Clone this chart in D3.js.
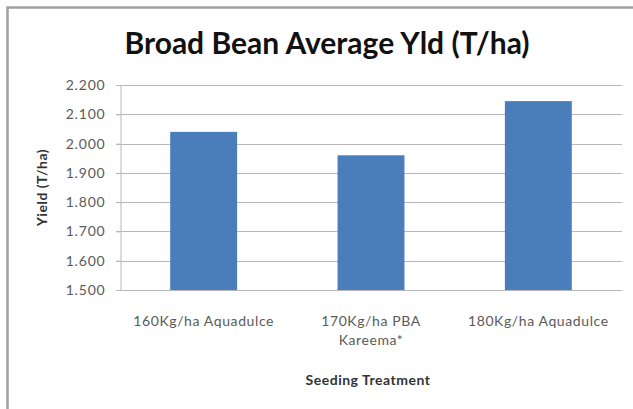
<!DOCTYPE html>
<html>
<head>
<meta charset="utf-8">
<script src="https://cdn.jsdelivr.net/npm/d3@7"></script>
<style>
  html, body { margin: 0; padding: 0; background: #ffffff; }
  svg { display: block; }
  text { font-family: Lato, "Open Sans", sans-serif; }
</style>
</head>
<body>
<script>
// Broad bean trial: average yield by seeding treatment
const categories = [["160Kg/ha Aquadulce"], ["170Kg/ha PBA", "Kareema*"], ["180Kg/ha Aquadulce"]];
const yieldValues = [2.04, 1.96, 2.145];
const yTicks = [1.5, 1.6, 1.7, 1.8, 1.9, 2.0, 2.1, 2.2];

const W = 633, H = 409;
const plot = { left: 120, right: 622, top: 85, bottom: 290 };

const svg = d3.select("body").append("svg")
  .attr("width", W).attr("height", H);

// chart frame
svg.append("rect")
  .attr("x", 7.5).attr("y", 7.5)
  .attr("width", W + 10).attr("height", H + 10)
  .attr("fill", "#ffffff")
  .attr("stroke", "#a0a0a0").attr("stroke-width", 2.5);

const keys = categories.map((c, i) => i);
const x = d3.scaleBand().domain(keys).range([plot.left, plot.right]).paddingInner(0.6).paddingOuter(0.3);
const y = d3.scaleLinear().domain([1.5, 2.2]).range([plot.bottom, plot.top]);

// horizontal gridlines
svg.append("g").selectAll("line").data(yTicks).join("line")
  .attr("x1", plot.left - 4).attr("x2", plot.right)
  .attr("y1", d => Math.round(y(d)) + 0.5).attr("y2", d => Math.round(y(d)) + 0.5)
  .attr("stroke", "#b8b8b8").attr("stroke-width", 1);

// y axis
const yAxis = svg.append("g")
  .attr("transform", `translate(${plot.left + 0.5},0)`)
  .call(d3.axisLeft(y).tickValues(yTicks).tickFormat(d3.format(".3f")).tickSize(4).tickPadding(11));
yAxis.select(".domain").attr("stroke", "#b8b8b8");
yAxis.selectAll(".tick line").attr("stroke", "#b8b8b8");
yAxis.selectAll(".tick text")
  .attr("fill", "#5a5a5a").style("font-size", "14px").style("letter-spacing", "0.8px");

// bars
svg.append("g").selectAll("rect").data(yieldValues).join("rect")
  .attr("x", (d, i) => x(i))
  .attr("width", x.bandwidth())
  .attr("y", d => y(d))
  .attr("height", d => y(1.5) - y(d))
  .attr("fill", "#4a7ebb");

// x axis baseline
svg.append("line")
  .attr("x1", plot.left).attr("x2", plot.right)
  .attr("y1", plot.bottom + 0.5).attr("y2", plot.bottom + 0.5)
  .attr("stroke", "#b8b8b8");

// category labels
const xl = svg.append("g").selectAll("text").data(categories).join("text")
  .attr("text-anchor", "middle")
  .attr("fill", "#5a5a5a")
  .style("font-size", "14px").style("letter-spacing", "0.6px");
xl.each(function(lines, i) {
  d3.select(this).selectAll("tspan").data(lines).join("tspan")
    .attr("x", x(i) + x.bandwidth() / 2)
    .attr("y", (l, j) => 326 + j * 19)
    .text(l => l);
});

// titles
svg.append("text")
  .attr("x", 327).attr("y", 54)
  .attr("text-anchor", "middle")
  .attr("fill", "#111111")
  .style("font-size", "30px").style("font-weight", "bold")
  .text("Broad Bean Average Yld (T/ha)");

svg.append("text")
  .attr("transform", `translate(47,${(plot.top + plot.bottom) / 2}) rotate(-90)`)
  .attr("text-anchor", "middle")
  .attr("fill", "#333333")
  .style("font-size", "14px").style("font-weight", "bold").style("letter-spacing", "0.5px")
  .text("Yield (T/ha)");

svg.append("text")
  .attr("x", 368).attr("y", 385)
  .attr("text-anchor", "middle")
  .attr("fill", "#333333")
  .style("font-size", "14px").style("font-weight", "bold").style("letter-spacing", "0.5px")
  .text("Seeding Treatment");
</script>
</body>
</html>
